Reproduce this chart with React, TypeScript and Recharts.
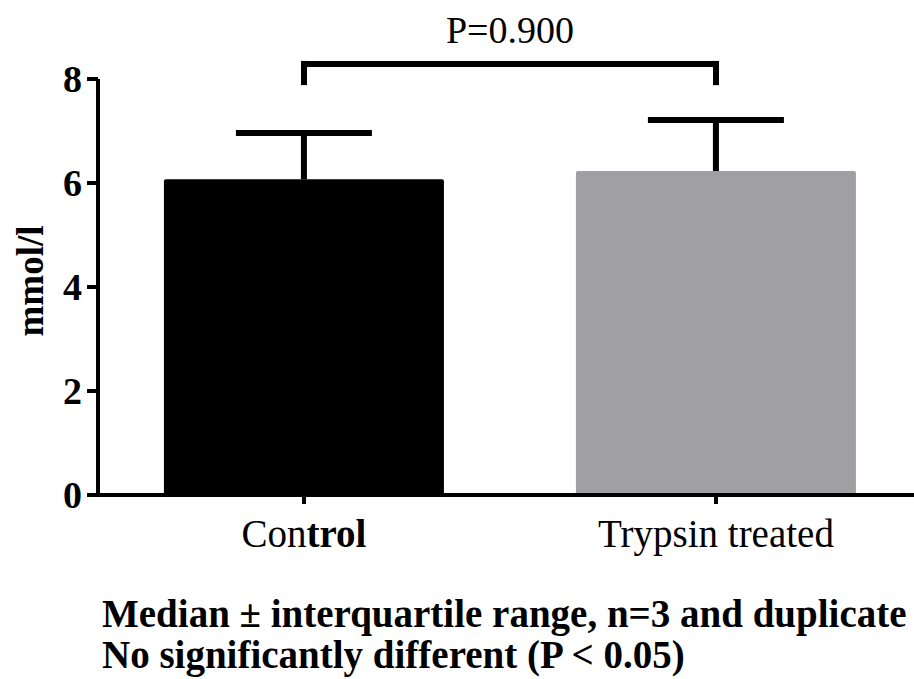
import React from 'react';
import { BarChart, Bar, XAxis, YAxis, ReferenceLine } from 'recharts';

const categories = ['Control', 'Trypsin treated'];
const medians = [6.07, 6.23];
const upperIqr = [0.89, 0.98];
const yTicks = [0, 2, 4, 6, 8];
const bracketY = 8.29;
const bracketEndY = 7.94;
const pLabel = 'P=0.900';
const yLabel = 'mmol/l';
const footnotes = [
  'Median \u00B1 interquartile range, n=3 and duplicate',
  'No significantly different (P < 0.05)',
];
const barColors = ['#000000', '#a09fa3'];

const data = categories.map((name, i) => ({ name, value: medians[i], err: upperIqr[i], color: barColors[i] }));

const FONT = '"Liberation Serif", "Times New Roman", serif';

const XTick = (props: any) => {
  const { x, y, payload } = props;
  const v: string = payload.value;
  if (v === 'Control') {
    return (
      <text x={x} y={y} dy={43} textAnchor="middle" fontFamily={FONT} fontSize={39} fill="#000">
        <tspan>{v.slice(0, 3)}</tspan>
        <tspan fontWeight="bold">{v.slice(3)}</tspan>
      </text>
    );
  }
  return (
    <text x={x} y={y} dy={43} textAnchor="middle" fontFamily={FONT} fontSize={39} fill="#000">
      {v}
    </text>
  );
};

const ErrShape = (props: any) => {
  const { x, y, width, height } = props;
  if (x == null || y == null) return null;
  const cx = x + width / 2;
  return (
    <g>
      <line x1={cx} x2={cx} y1={y + height} y2={y} stroke="#000" strokeWidth={6} />
      <line x1={cx - 68} x2={cx + 68} y1={y} y2={y} stroke="#000" strokeWidth={6} />
    </g>
  );
};

const ValueShape = (props: any) => {
  const { x, y, width, height, payload } = props;
  return <rect x={x} y={y} width={width} height={height} rx={2} ry={2} fill={payload.color} />;
};

const PLabel = (props: any) => {
  const vb = props.viewBox || {};
  const cx = vb.x + (vb.width || 0) / 2;
  return (
    <text x={cx} y={vb.y - 21} textAnchor="middle" fontFamily={FONT} fontSize={38} fill="#000">
      {pLabel}
    </text>
  );
};

const YLabel = () => (
  <text
    x={43}
    y={281}
    transform="rotate(-90, 43, 281)"
    textAnchor="middle"
    fontFamily={FONT}
    fontSize={37}
    fontWeight="bold"
    fill="#000"
  >
    {yLabel}
  </text>
);

export default function App() {
  return (
    <div style={{ position: 'fixed', left: 0, top: 0, width: 914, height: 679, overflow: 'hidden', background: '#fff' }}>
      <BarChart
        width={930}
        height={679}
        data={data}
        margin={{ top: 79, right: 8, bottom: 124, left: 0 }}
        barCategoryGap="16%"
      >
        <XAxis
          dataKey="name"
          height={60}
          axisLine={{ stroke: '#000', strokeWidth: 4 }}
          tickLine={{ stroke: '#000', strokeWidth: 4 }}
          tickSize={9}
          tickMargin={0}
          tick={<XTick />}
          interval={0}
        />
        <YAxis
          width={98}
          domain={[0, 8]}
          ticks={yTicks}
          interval={0}
          axisLine={{ stroke: '#000', strokeWidth: 4 }}
          tickLine={{ stroke: '#000', strokeWidth: 4 }}
          tickSize={11}
          tickMargin={5}
          tick={{ fill: '#000', fontSize: 38, fontWeight: 'bold', fontFamily: FONT }}
          label={<YLabel />}
        />
        <Bar dataKey="value" stackId="a" isAnimationActive={false} shape={<ValueShape />} />
        <Bar dataKey="err" stackId="a" isAnimationActive={false} shape={<ErrShape />} />
        <ReferenceLine
          segment={[{ x: categories[0], y: bracketY }, { x: categories[1], y: bracketY }]}
          stroke="#000"
          strokeWidth={6}
          strokeLinecap="square"
          ifOverflow="visible"
          label={<PLabel />}
        />
        <ReferenceLine
          segment={[{ x: categories[0], y: bracketY }, { x: categories[0], y: bracketEndY }]}
          stroke="#000"
          strokeWidth={6}
          strokeLinecap="square"
          ifOverflow="visible"
        />
        <ReferenceLine
          segment={[{ x: categories[1], y: bracketY }, { x: categories[1], y: bracketEndY }]}
          stroke="#000"
          strokeWidth={6}
          strokeLinecap="square"
          ifOverflow="visible"
        />
      </BarChart>
      <svg width={914} height={679} style={{ position: 'absolute', left: 0, top: 0, pointerEvents: 'none' }}>
        {footnotes.map((t, i) => (
          <text key={i} x={102} y={627 + i * 41} fontFamily={FONT} fontSize={39} fontWeight="bold" fill="#000">
            {t}
          </text>
        ))}
      </svg>
    </div>
  );
}
